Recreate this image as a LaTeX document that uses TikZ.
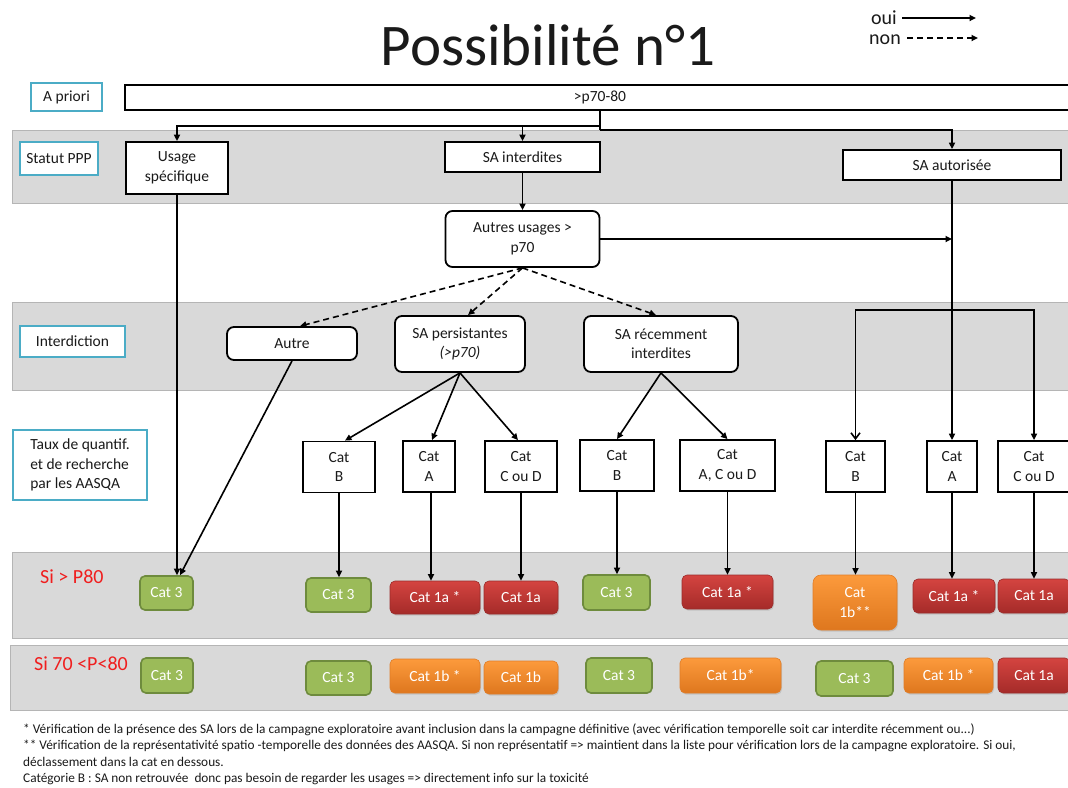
\documentclass[tikz,border=0pt]{standalone}
\usepackage{fontspec}
\setmainfont{Carlito}
\usetikzlibrary{arrows.meta,shadows}
\definecolor{bandgray}{HTML}{D9D9D9}
\definecolor{bandedge}{HTML}{B5B5B5}
\definecolor{cyanb}{HTML}{4BACC6}
\definecolor{catgreen}{HTML}{9BBB59}
\definecolor{greenedge}{HTML}{6E8B3D}
\definecolor{redtop}{HTML}{D44440}
\definecolor{redbot}{HTML}{A52B29}
\definecolor{rededge}{HTML}{9A2C2A}
\definecolor{orgtop}{HTML}{FC9A3C}
\definecolor{orgbot}{HTML}{DE771E}
\definecolor{orgedge}{HTML}{E07D28}
\definecolor{txt}{HTML}{1A1A1A}
\definecolor{redlabel}{HTML}{F01E1E}
\begin{document}
\begin{tikzpicture}[x=1pt,y=-1pt,
  every node/.style={text=txt},
  band/.style={fill=bandgray, draw=bandedge, line width=1pt},
  lbl/.style={draw=cyanb, line width=1.8pt, fill=white, inner sep=0pt, align=center, font=\fontsize{15.5}{19.5}\selectfont},
  wbox/.style={draw=black, line width=1.8pt, fill=white, inner sep=0pt, align=center, font=\fontsize{15.5}{19.5}\selectfont},
  rbox/.style={wbox, rounded corners=7pt},
  catbase/.style={inner sep=0pt, align=center, text=white, font=\fontsize{15.5}{19.5}\selectfont, rounded corners=5pt},
  gcat/.style={catbase, draw=greenedge, line width=1.6pt, fill=catgreen},
  rcat/.style={catbase, draw=rededge, line width=0.6pt, top color=redtop, bottom color=redbot, drop shadow={opacity=0.25, shadow xshift=1pt, shadow yshift=-1.5pt}},
  ocat/.style={catbase, draw=orgedge, line width=0.6pt, top color=orgtop, bottom color=orgbot, drop shadow={opacity=0.25, shadow xshift=1pt, shadow yshift=-1.5pt}},
  arr/.style={-{Triangle[length=6.5pt,width=6pt]}, line width=1.6pt},
  darr/.style={arr, dash pattern=on 6pt off 4pt},
  note/.style={anchor=base west, inner sep=0pt, font=\fontsize{13.3}{15}\selectfont},
  redl/.style={text=redlabel, inner sep=0pt, font=\fontsize{20}{24}\selectfont}
]
\useasboundingbox (0,0) rectangle (1068,787);
\fill[white] (0,0) rectangle (1068,787);

% bands
\draw[band] (12,130) rectangle (1075,203);
\draw[band] (12,302) rectangle (1075,390);
\draw[band] (12,552) rectangle (1075,638);
\draw[band] (10,645) rectangle (1075,710);

% title and legend
\node[inner sep=0pt, font=\fontsize{59}{62}\selectfont] (title) at (548,45) {Possibilité n°1};
\node[inner sep=0pt, anchor=base east, font=\fontsize{20}{24}\selectfont] (oui) at (897,24) {oui};
\node[inner sep=0pt, anchor=base east, font=\fontsize{20}{24}\selectfont] (non) at (901,44) {non};
\coordinate (ouiE) at (976,18);
\coordinate (nonE) at (978,38);
\draw[arr] (oui.east |- ouiE) ++(5,0) coordinate (ouiS) -- (ouiE);
\draw[darr] (non.east |- nonE) ++(6,0) coordinate (nonS) -- (nonE);

% row labels
\node[lbl, minimum width=71pt, minimum height=28pt] (apriori) at (66.5,97) {A priori};
\node[lbl, minimum width=78pt, minimum height=33pt] (statut) at (59,158.5) {Statut PPP};
\node[lbl, minimum width=105pt, minimum height=31pt] (interd) at (72.5,341.5) {Interdiction};
\node[lbl, minimum width=134pt, minimum height=70pt, align=left] (taux) at (80,465) {Taux de quantif.\\et de recherche\\par les AASQA};
\node[redl, anchor=base west] (sip80) at (40,583) {Si > P80};
\node[redl, anchor=base west] (si7080) at (34,670) {Si 70 <P<80};

% top
\node[wbox, minimum width=950pt, minimum height=25pt] (p7080) at (600,97.5) {>p70-80};
\node[wbox, minimum width=102pt, minimum height=52pt] (usage) at (177,168) {Usage\\spécifique};
\node[wbox, minimum width=155pt, minimum height=30pt] (sainterd) at (522.5,157) {SA interdites};
\node[wbox, minimum width=218pt, minimum height=30pt] (saaut) at (952,165) {SA autorisée};
\node[rbox, minimum width=154pt, minimum height=56pt] (autres) at (522.5,239) {Autres usages >\\p70};

% interdiction row
\node[rbox, minimum width=130pt, minimum height=33pt] (autre) at (292,343.5) {Autre};
\node[rbox, minimum width=130pt, minimum height=56pt] (sapers) at (460,344) {SA persistantes\\\textit{(>p70)}};
\node[rbox, minimum width=154pt, minimum height=56pt] (sarec) at (661,344) {SA récemment\\interdites};

% cat row
\node[wbox, minimum width=72pt, minimum height=51pt] (catB1) at (339,467) {Cat\\B};
\node[wbox, minimum width=52pt, minimum height=51pt] (catA1) at (429,466.5) {Cat\\A};
\node[wbox, minimum width=72pt, minimum height=51pt] (catCD1) at (521,466.5) {Cat\\C ou D};
\node[wbox, minimum width=74pt, minimum height=51pt] (catB2) at (617,465.5) {Cat\\B};
\node[wbox, minimum width=95pt, minimum height=51pt] (catACD) at (727.5,465.5) {Cat\\A, C ou D};
\node[wbox, minimum width=59pt, minimum height=51pt] (catB3) at (855.5,466.5) {Cat\\B};
\node[wbox, minimum width=50pt, minimum height=51pt] (catA3) at (952,466.5) {Cat\\A};
\node[wbox, minimum width=72pt, minimum height=51pt] (catCD3) at (1034,466.5) {Cat\\C ou D};

% results row 1
\node[gcat, minimum width=53pt, minimum height=34pt] (r1a) at (166.5,593) {Cat 3};
\node[gcat, minimum width=65pt, minimum height=34pt] (r1b) at (338.5,595) {Cat 3};
\node[rcat, minimum width=90pt, minimum height=33pt] (r1c) at (435,597.5) {Cat 1a *};
\node[rcat, minimum width=74pt, minimum height=33pt] (r1d) at (521,597.5) {Cat 1a};
\node[gcat, minimum width=67pt, minimum height=35pt] (r1e) at (616.5,592.5) {Cat 3};
\node[rcat, minimum width=91pt, minimum height=34pt] (r1f) at (727.5,592) {Cat 1a *};
\node[ocat, minimum width=84pt, minimum height=55pt, rounded corners=8pt] (r1g) at (855,602.5) {Cat\\1b**};
\node[rcat, minimum width=82pt, minimum height=34pt] (r1h) at (954,596) {Cat 1a *};
\node[rcat, minimum width=72pt, minimum height=34pt] (r1i) at (1034,596) {Cat 1a};

% results row 2
\node[gcat, minimum width=52pt, minimum height=35pt] (r2a) at (167,675.5) {Cat 3};
\node[gcat, minimum width=65pt, minimum height=34pt] (r2b) at (338.5,678) {Cat 3};
\node[ocat, minimum width=90pt, minimum height=34pt] (r2c) at (435,676) {Cat 1b *};
\node[ocat, minimum width=74pt, minimum height=33pt] (r2d) at (521,677.5) {Cat 1b};
\node[gcat, minimum width=66pt, minimum height=35pt] (r2e) at (619,675.5) {Cat 3};
\node[ocat, minimum width=101pt, minimum height=35pt] (r2f) at (730.5,675.5) {Cat 1b*};
\node[gcat, minimum width=77pt, minimum height=35pt] (r2g) at (854.5,678.5) {Cat 3};
\node[ocat, minimum width=89pt, minimum height=35pt] (r2h) at (948.5,675.5) {Cat 1b *};
\node[rcat, minimum width=72pt, minimum height=35pt] (r2i) at (1034,675.5) {Cat 1a};

% connectors top
\coordinate (j1) at (600,126);
\coordinate (j2) at (600,130);
\draw[line width=1.6pt] (p7080.south) -- (j2);
\draw[arr] (j1) -| (usage.north);
\draw[arr] (j1) -| (sainterd.north);
\draw[arr] (j2) -| (saaut.north);
\draw[arr] (usage.south) -- (usage.south |- r1a.north);
\draw[arr] (sainterd.south) -- (autres.north);
\draw[arr] (autres.east) -- (autres.east -| saaut.south);
\draw[arr] (saaut.south) -- (saaut.south |- catA3.north);
\coordinate (j3) at (952,310);
\draw[-{Straight Barb[length=6pt,width=9pt]}, line width=1.6pt] (j3) -| (catB3.north);
\draw[arr] (j3) -| (catCD3.north);

% dashed
\draw[darr] (autres.south) -- ([xshift=8pt]autre.north);
\draw[darr] (autres.south) -- ([xshift=8pt]sapers.north);
\draw[darr] (autres.south) -- ([xshift=-5pt]sarec.north);

% interdiction to cats
\draw[arr] (sapers.south) -- ([xshift=6pt]catB1.north);
\draw[arr] (sapers.south) -- ([xshift=3pt]catA1.north);
\draw[arr] (sapers.south) -- ([xshift=-3pt]catCD1.north);
\draw[arr] (sarec.south) -- (catB2.north);
\draw[arr] (sarec.south) -- (catACD.north);
\draw[arr] (autre.south) -- ([xshift=3pt]usage.south |- r1a.north);

% cats to results
\draw[arr] (catB1.south) -- (catB1.south |- r1b.north);
\draw[arr] ([xshift=2pt]catA1.south) -- ([xshift=2pt]catA1.south |- r1c.north);
\draw[arr] (catCD1.south) -- (catCD1.south |- r1d.north);
\draw[arr] (catB2.south) -- (catB2.south |- r1e.north);
\draw[arr] (catACD.south) -- (catACD.south |- r1f.north);
\draw[arr] (catB3.south) -- (catB3.south |- r1g.north);
\draw[arr] (catA3.south) -- (catA3.south |- r1h.north);
\draw[arr] (catCD3.south) -- (catCD3.south |- r1i.north);

% notes
\node[note] (n1) at (23,733) {* Vérification de la présence des SA lors de la campagne exploratoire avant inclusion dans la campagne définitive (avec vérification temporelle soit car interdite récemment ou...)};
\node[note] (n2) at (23,749.5) {** Vérification de la représentativité spatio -temporelle des données des AASQA. Si non représentatif => maintient dans la liste pour vérification lors de la campagne exploratoire. Si oui,};
\node[note] (n3) at (23,766) {déclassement dans la cat en dessous.};
\node[note] (n4) at (23,782.5) {Catégorie B : SA non retrouvée~ donc pas besoin de regarder les usages => directement info sur la toxicité};
\end{tikzpicture}
\end{document}
